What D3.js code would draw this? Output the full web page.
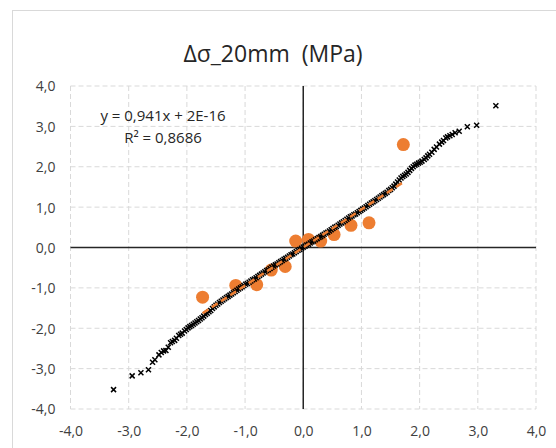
<!DOCTYPE html>
<html>
<head>
<meta charset="utf-8">
<script src="https://cdn.jsdelivr.net/npm/d3@7"></script>
<style>
  body { margin: 0; background: #fff; }
  text { font-family: "Open Sans", "Noto Sans", sans-serif; }
</style>
</head>
<body>
<div id="chart-area"></div>
<script>
// chart data
const TITLE = "Δσ_20mm  (MPa)";
const EQUATION = ["y = 0,941x + 2E-16", "R² = 0,8686"];
const AXIS_TICKS = [-4, -3, -2, -1, 0, 1, 2, 3, 4];

// measured points (orange)
const measX = [-1.73, -1.16, -0.80, -0.55, -0.31, -0.13, 0.09, 0.30, 0.53, 0.82, 1.13, 1.72];
const measY = [-1.23, -0.94, -0.92, -0.56, -0.47, 0.16, 0.20, 0.16, 0.32, 0.55, 0.61, 2.55];

// linear trend of the orange series
const trendSlope = 0.941;
const trendIntercept = 2e-16;

// reference cloud (black crosses)
const refX = [-3.26, -2.94, -2.79, -2.66, -2.59, -2.55, -2.48, -2.44, -2.40, -2.36, -2.32, -2.28, -2.25, -2.21, -2.18,
  -2.14, -2.11, -2.08, -2.04, -2.01, -1.98, -1.95, -1.92, -1.89, -1.86, -1.83, -1.80, -1.77, -1.74, -1.71, -1.68,
  -1.65, -1.62, -1.59, -1.56, -1.53, -1.50, -1.47, -1.44, -1.41, -1.38, -1.35, -1.32, -1.29, -1.26, -1.23, -1.20,
  -1.17, -1.14, -1.11, -1.08, -1.05, -1.02, -0.99, -0.96, -0.93, -0.90, -0.87, -0.84, -0.81, -0.78, -0.75, -0.72,
  -0.69, -0.66, -0.63, -0.60, -0.57, -0.54, -0.51, -0.48, -0.45, -0.42, -0.39, -0.36, -0.33, -0.30, -0.27, -0.24,
  -0.21, -0.18, -0.15, -0.12, -0.09, -0.06, -0.03, 0.00, 0.03, 0.06, 0.09, 0.12, 0.15, 0.18, 0.21, 0.24, 0.27, 0.30,
  0.33, 0.36, 0.39, 0.42, 0.45, 0.48, 0.51, 0.54, 0.57, 0.60, 0.63, 0.66, 0.69, 0.72, 0.75, 0.78, 0.81, 0.84, 0.87,
  0.90, 0.93, 0.96, 0.99, 1.02, 1.05, 1.08, 1.11, 1.14, 1.17, 1.20, 1.23, 1.26, 1.29, 1.32, 1.35, 1.38, 1.41, 1.44,
  1.47, 1.50, 1.53, 1.56, 1.59, 1.62, 1.65, 1.68, 1.71, 1.74, 1.77, 1.80, 1.83, 1.86, 1.89, 1.92, 1.95, 1.98, 2.01,
  2.04, 2.08, 2.11, 2.14, 2.17, 2.21, 2.25, 2.29, 2.34, 2.38, 2.41, 2.45, 2.48, 2.52, 2.56, 2.61, 2.68, 2.82, 2.98, 3.31];
const refY = [-3.52, -3.18, -3.10, -3.03, -2.84, -2.78, -2.66, -2.60, -2.56, -2.55, -2.47, -2.36, -2.33, -2.30, -2.25,
  -2.18, -2.15, -2.12, -2.07, -2.03, -1.99, -1.96, -1.93, -1.90, -1.87, -1.84, -1.81, -1.77, -1.74, -1.70, -1.66,
  -1.63, -1.59, -1.56, -1.51, -1.47, -1.43, -1.40, -1.36, -1.33, -1.30, -1.27, -1.24, -1.21, -1.18, -1.15, -1.12,
  -1.09, -1.06, -1.03, -1.00, -0.97, -0.94, -0.91, -0.89, -0.86, -0.83, -0.80, -0.78, -0.75, -0.72, -0.69, -0.66,
  -0.63, -0.60, -0.57, -0.55, -0.52, -0.49, -0.46, -0.43, -0.41, -0.38, -0.35, -0.32, -0.29, -0.27, -0.24, -0.21,
  -0.18, -0.16, -0.13, -0.10, -0.07, -0.05, -0.02, 0.01, 0.03, 0.06, 0.08, 0.11, 0.14, 0.16, 0.19, 0.22, 0.25, 0.27,
  0.30, 0.33, 0.36, 0.38, 0.41, 0.44, 0.47, 0.50, 0.52, 0.55, 0.58, 0.61, 0.64, 0.67, 0.70, 0.73, 0.76, 0.78, 0.81,
  0.83, 0.86, 0.89, 0.92, 0.95, 0.98, 1.01, 1.04, 1.07, 1.10, 1.13, 1.16, 1.19, 1.22, 1.25, 1.28, 1.31, 1.34, 1.37,
  1.41, 1.44, 1.48, 1.52, 1.57, 1.62, 1.67, 1.72, 1.76, 1.79, 1.82, 1.86, 1.91, 1.96, 2.00, 2.04, 2.06, 2.09, 2.11,
  2.14, 2.18, 2.22, 2.27, 2.31, 2.36, 2.43, 2.49, 2.56, 2.61, 2.65, 2.71, 2.74, 2.77, 2.80, 2.84, 2.88, 2.99, 3.03, 3.51];

// layout
const W = 556, H = 448;
const PLOT = { LEFT: 70.5, RIGHT: 536, TOP: 86, BOTTOM: 409 };

const svg = d3.select("#chart-area").append("svg")
  .attr("width", W)
  .attr("height", H);

// chart area border
svg.append("rect")
  .attr("x", 12.5).attr("y", 10.5)
  .attr("width", W).attr("height", H)
  .attr("fill", "#fff")
  .attr("stroke", "#d9d9d9");

const x = d3.scaleLinear().domain([-4, 4]).range([PLOT.LEFT, PLOT.RIGHT]);
const y = d3.scaleLinear().domain([-4, 4]).range([PLOT.BOTTOM, PLOT.TOP]);

const fmt = d3.formatLocale({ decimal: ",", thousands: ".", grouping: [3], currency: ["", ""], minus: "-" }).format(".1f");

// gridlines
const grid = svg.append("g").attr("stroke", "#d9d9d9").attr("stroke-dasharray", "5,3");
grid.selectAll(".gx").data(AXIS_TICKS).enter().append("line")
  .attr("x1", d => x(d)).attr("x2", d => x(d))
  .attr("y1", PLOT.TOP).attr("y2", PLOT.BOTTOM);
grid.selectAll(".gy").data(AXIS_TICKS).enter().append("line")
  .attr("x1", PLOT.LEFT).attr("x2", PLOT.RIGHT)
  .attr("y1", d => y(d)).attr("y2", d => y(d));

// tick labels (low position)
const xAxis = svg.append("g")
  .attr("transform", `translate(0, ${PLOT.BOTTOM + 22})`)
  .call(d3.axisBottom(x).tickValues(AXIS_TICKS).tickFormat(fmt).tickSize(0));
const yAxis = svg.append("g")
  .attr("transform", `translate(${PLOT.LEFT - 15}, 0)`)
  .call(d3.axisLeft(y).tickValues(AXIS_TICKS).tickFormat(fmt).tickSize(0));
[xAxis, yAxis].forEach(a => {
  a.select(".domain").remove();
  a.selectAll("text")
    .attr("fill", "#404040")
    .style("font-size", "14px")
    .style("font-family", "'Open Sans', sans-serif");
});
yAxis.selectAll("text").attr("x", 0).attr("dy", "0.35em");
xAxis.selectAll("text").attr("y", 0).attr("dy", "0.35em");

// axes through zero
svg.append("line")
  .attr("x1", PLOT.LEFT).attr("x2", PLOT.RIGHT)
  .attr("y1", y(0)).attr("y2", y(0))
  .attr("stroke", "#262626").attr("stroke-width", 1.5);
svg.append("line")
  .attr("x1", x(0)).attr("x2", x(0))
  .attr("y1", PLOT.TOP).attr("y2", PLOT.BOTTOM)
  .attr("stroke", "#262626").attr("stroke-width", 1.5);

// orange measured points
svg.append("g").selectAll("circle")
  .data(measX.map((d, i) => ({ x: d, y: measY[i] })))
  .enter().append("circle")
  .attr("cx", d => x(d.x))
  .attr("cy", d => y(d.y))
  .attr("r", 6.5)
  .attr("fill", "#ED7D31");

// black crosses
const s = 2.5;
svg.append("g").selectAll("path")
  .data(refX.map((d, i) => ({ x: d, y: refY[i] })))
  .enter().append("path")
  .attr("d", d => {
    const px = x(d.x), py = y(d.y);
    return `M${px - s},${py - s}L${px + s},${py + s}M${px - s},${py + s}L${px + s},${py - s}`;
  })
  .attr("stroke", "#000")
  .attr("stroke-width", 1.5)
  .attr("fill", "none");

// trendline
const tx = d3.extent(measX);
svg.append("line")
  .attr("x1", x(tx[0])).attr("y1", y(trendSlope * tx[0] + trendIntercept))
  .attr("x2", x(tx[1])).attr("y2", y(trendSlope * tx[1] + trendIntercept))
  .attr("stroke", "#ED7D31")
  .attr("stroke-width", 2.5)
  .attr("stroke-dasharray", "7,4");

// title
svg.append("text")
  .attr("x", 273)
  .attr("y", 62)
  .attr("text-anchor", "middle")
  .attr("fill", "#262626")
  .style("font-size", "23px")
  .style("white-space", "pre")
  .text(TITLE);

// equation label
svg.append("g").selectAll("text")
  .data(EQUATION)
  .enter().append("text")
  .attr("x", 163)
  .attr("y", (d, i) => 121 + i * 22)
  .attr("text-anchor", "middle")
  .attr("fill", "#262626")
  .style("font-size", "15px")
  .text(d => d);
</script>
</body>
</html>
